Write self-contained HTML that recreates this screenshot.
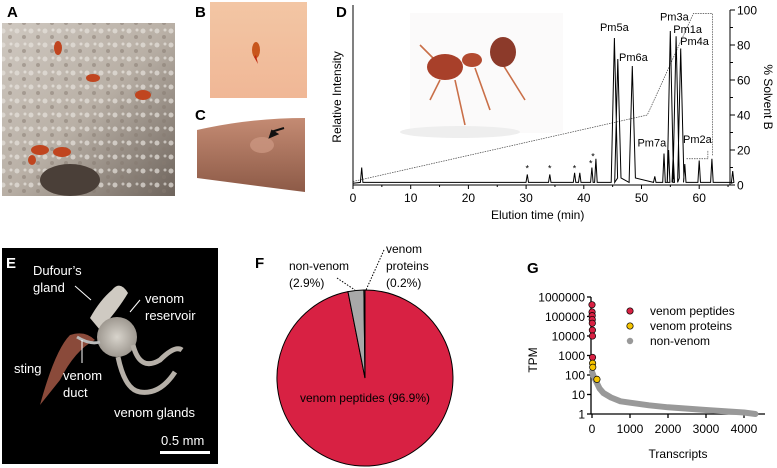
<!DOCTYPE html>
<html><head><meta charset="utf-8">
<style>
body{margin:0;background:#fff;}
svg{display:block;font-family:"Liberation Sans",Arial,sans-serif;}
</style></head>
<body>
<svg id="fig" width="777" height="468" viewBox="0 0 777 468">
<defs>
<linearGradient id="gA" x1="0" y1="0" x2="1" y2="1"><stop offset="0" stop-color="#cfc8c0"/><stop offset="0.5" stop-color="#b9b0a6"/><stop offset="1" stop-color="#6e645c"/></linearGradient>
<linearGradient id="gB" x1="0" y1="0" x2="0" y2="1"><stop offset="0" stop-color="#f3c6a4"/><stop offset="1" stop-color="#f0b796"/></linearGradient>
<linearGradient id="gC" x1="0" y1="0" x2="0" y2="1"><stop offset="0" stop-color="#c48b73"/><stop offset="1" stop-color="#8d5a47"/></linearGradient>
<radialGradient id="gRes"><stop offset="0" stop-color="#d8d4cc"/><stop offset="1" stop-color="#9e9890"/></radialGradient>
<pattern id="grit" width="14" height="14" patternUnits="userSpaceOnUse"><circle cx="3" cy="3" r="2.5" fill="#e6e1dc" opacity="0.7"/><circle cx="10" cy="9" r="2" fill="#857a70" opacity="0.5"/><circle cx="11" cy="2" r="1.5" fill="#f2eeea" opacity="0.6"/></pattern>
</defs>
<!-- Panel A -->
<text x="7" y="17" font-size="15" font-weight="bold">A</text>
<g>
<rect x="2" y="23" width="173" height="173" fill="url(#gA)"/>
<rect x="2" y="23" width="173" height="173" fill="url(#grit)"/>
<ellipse cx="70" cy="180" rx="30" ry="16" fill="#4a3f38"/>
<g fill="#c0451f"><ellipse cx="58" cy="48" rx="4" ry="7"/><ellipse cx="93" cy="78" rx="7" ry="4"/><ellipse cx="143" cy="95" rx="8" ry="5"/><ellipse cx="40" cy="150" rx="9" ry="5"/><ellipse cx="62" cy="152" rx="9" ry="5"/><ellipse cx="32" cy="160" rx="4" ry="5"/></g>
</g>
<!-- Panel B -->
<text x="195" y="17" font-size="15" font-weight="bold">B</text>
<g>
<rect x="210" y="2" width="97" height="96" fill="url(#gB)"/>
<ellipse cx="256" cy="50" rx="4" ry="8" fill="#c8561c"/>
<path d="M256 55 L258 64 L254 57Z" fill="#c02a10"/>
</g>
<!-- Panel C -->
<text x="195" y="120" font-size="15" font-weight="bold">C</text>
<g>
<path d="M197 130 Q250 118 305 118 L305 192 Q250 185 197 178Z" fill="url(#gC)"/>
<ellipse cx="262" cy="145" rx="12" ry="8" fill="#cf9a84" opacity="0.7"/>
<path d="M271 132 L284 128 M270 137 L272 131 L277 134Z" stroke="#111" stroke-width="2" fill="#111"/>
</g>
<!-- Panel D -->
<text x="336" y="17" font-size="15" font-weight="bold">D</text>
<g id="chartD"></g>
<!-- Panel E -->
<g>
<rect x="2" y="248" width="216" height="216" fill="#000"/>
<text x="6" y="268" font-size="15" font-weight="bold" fill="#fff">E</text>
<path d="M40 405 Q55 350 70 335 Q85 330 95 340 Q75 350 60 380Z" fill="#8a4a3a"/>
<path d="M90 318 Q100 300 112 290 Q120 280 128 293 Q118 310 100 330Z" fill="#cfcac2"/>
<circle cx="117" cy="337" r="20" fill="url(#gRes)"/>
<path d="M133 345 Q140 372 160 360 Q175 345 182 350 M118 357 Q125 390 140 392 Q160 395 175 372" stroke="#b6b0a8" stroke-width="5" fill="none"/>
<path d="M77 337 Q90 345 100 342" stroke="#bbb" stroke-width="3" fill="none"/>
<g fill="#fff" font-size="13">
<text x="33" y="275">Dufour’s</text><text x="33" y="292">gland</text>
<text x="145" y="303">venom</text><text x="145" y="320">reservoir</text>
<text x="14" y="373">sting</text>
<text x="63" y="380">venom</text><text x="63" y="397">duct</text>
<text x="114" y="417">venom glands</text>
<text x="161" y="445">0.5 mm</text>
</g>
<g stroke="#fff" stroke-width="1"><line x1="75" y1="286" x2="91" y2="300"/><line x1="140" y1="300" x2="130" y2="312"/><line x1="82" y1="340" x2="82" y2="363"/></g>
<rect x="160" y="451" width="50" height="3" fill="#fff"/>
</g>
<!-- Panel F -->
<g id="chartF"></g>
<!-- Panel G -->
<text x="527" y="273" font-size="15" font-weight="bold">G</text>
<g id="chartG"></g>
</svg>
<script>
// ---- Panel D data ----
const peakTimes = [1.5, 30.2, 34.1, 38.4, 39.3, 41.4, 42.1, 45.3, 45.9, 48.4, 52.3, 53.9, 54.7, 55.0, 55.5, 56.0, 56.8, 57.5, 60.0, 62.2, 65.8];
const peakHeights = [10, 6, 6, 7, 7, 10, 15, 84, 72, 68, 5, 18, 20, 88, 17, 85, 78, 12, 14, 15, 8];
const gradientTimes = [0, 51, 59, 62.3, 62.3];
const gradientValues = [2, 40, 98, 98, 17];
const dXTicks = [0, 10, 20, 30, 40, 50, 60];
const dYTicks = [0, 20, 40, 60, 80, 100];
const peakLabels = ["Pm5a", "Pm6a", "Pm7a", "Pm3a", "Pm1a", "Pm4a", "Pm2a"];
const peakLabelTimes = [42.8, 46.1, 49.3, 53.2, 55.5, 56.7, 57.2];
const peakLabelValues = [88, 71, 22, 94, 87, 80, 24];
const starTimes = [30.2, 34.1, 38.4, 41.2, 41.6];
const starValues = [10, 10, 10, 13, 17];

// ---- Panel F data ----
const pieLabels = ["venom peptides", "non-venom", "venom proteins"];
const pieValues = [96.9, 2.9, 0.2];

// ---- Panel G data ----
const gyTicks = [1, 10, 100, 1000, 10000, 100000, 1000000];
const gxTicks = [0, 1000, 2000, 3000, 4000];
const peptideRanks = [0, 2, 4, 6, 8, 10, 12, 14];
const peptideTPM = [400000, 170000, 110000, 70000, 45000, 20000, 10000, 800];
const proteinRanks = [16, 20, 130];
const proteinTPM = [400, 250, 60];
const nonVenomRanks = [0, 50, 100, 200, 300, 500, 750, 1000, 1500, 2000, 2500, 3000, 3500, 4000, 4300];
const nonVenomTPM = [150, 80, 50, 20, 12, 7, 4.5, 3.8, 2.8, 2.2, 1.9, 1.6, 1.4, 1.2, 1.0];

const NS = "http://www.w3.org/2000/svg";
function mk(parent, tag, attrs, text){
  const e = document.createElementNS(NS, tag);
  for (const k in attrs) e.setAttribute(k, attrs[k]);
  if (text !== undefined) e.textContent = text;
  parent.appendChild(e);
  return e;
}

// ===== Panel D =====
(function(){
  const g = document.getElementById("chartD");
  const x0 = 353, pxPerMin = 5.77, yb = 185, yt = 10;
  const xs = t => x0 + t * pxPerMin;
  const ys = v => yb - (v / 100) * (yb - yt);
  const ant = mk(g, "g", {});
  
  
  mk(ant, "rect", {x:410, y:13, width:153, height:120, fill:"#fbfafa"});
  mk(ant, "ellipse", {cx:460, cy:132, rx:60, ry:6, fill:"#eeeeee"});
  mk(ant, "path", {d:"M440 80 L430 100 M455 80 L465 125 M475 68 L490 110 M500 60 L525 100 M435 60 L420 45", stroke:"#c96f48", "stroke-width":1.6, fill:"none"});
  mk(ant, "ellipse", {cx:445, cy:67, rx:18, ry:13, fill:"#a8402a"});
  mk(ant, "ellipse", {cx:472, cy:60, rx:10, ry:7, fill:"#b24a30"});
  mk(ant, "ellipse", {cx:503, cy:52, rx:13, ry:15, fill:"#8c3a2a"});
  let gd = "";
  gradientTimes.forEach((t,i)=>{ gd += (i?"L":"M") + xs(t).toFixed(1) + " " + ys(gradientValues[i]).toFixed(1) + " "; });
  const gl = mk(g, "path", {d:gd, fill:"none", stroke:"#444", "stroke-width":0.7, "stroke-dasharray":"1.5 1"});
  
  
  mk(g, "path", {d:`M${xs(57.8)} ${ys(15)} L${xs(61.5)} ${ys(15)} L${xs(61.5)} ${ys(20)}`, fill:"none", stroke:"#444", "stroke-width":0.7, "stroke-dasharray":"1.5 1"});
  let d = `M${xs(0)} ${ys(1)}`;
  const order = peakTimes.map((t,i)=>i).sort((a,b)=>peakTimes[a]-peakTimes[b]);
  order.forEach(i=>{
    const t = peakTimes[i], h = peakHeights[i], w = h > 40 ? 0.55 : 0.22;
    d += ` L${xs(t-w).toFixed(1)} ${ys(1.5).toFixed(1)} L${xs(t).toFixed(1)} ${ys(h).toFixed(1)} L${xs(t+w).toFixed(1)} ${ys(h>40?4:1.5).toFixed(1)}`;
  });
  d += ` L${xs(65.5)} ${ys(1)}`;
  const tr = mk(g, "path", {d:d, fill:"none", stroke:"#000", "stroke-width":1});
  
  
  mk(g, "line", {x1:x0, y1:yt-5, x2:x0, y2:yb, stroke:"#000"});
  mk(g, "line", {x1:x0, y1:yb, x2:730, y2:yb, stroke:"#000"});
  mk(g, "line", {x1:730, y1:yt, x2:730, y2:yb, stroke:"#000"});
  dXTicks.forEach(t=>{
    mk(g, "line", {x1:xs(t), y1:yb, x2:xs(t), y2:yb+4, stroke:"#000"});
    mk(g, "line", {x1:xs(t+5), y1:yb, x2:xs(t+5), y2:yb+2, stroke:"#000"});
    const tx = mk(g, "text", {x:xs(t), y:yb+17, "font-size":12, "text-anchor":"middle"}, String(t));
    
    
  });
  dYTicks.forEach(v=>{
    mk(g, "line", {x1:730, y1:ys(v), x2:735, y2:ys(v), stroke:"#000"});
    if (v<100) mk(g, "line", {x1:730, y1:ys(v+10), x2:733, y2:ys(v+10), stroke:"#000"});
    const tx = mk(g, "text", {x:737, y:ys(v)+4.5, "font-size":12}, String(v));
    
    
  });
  const xt = mk(g, "text", {x:xs(32), y:219, "font-size":12, "text-anchor":"middle"}, "Elution time (min)");
  
  
  const yl = mk(g, "text", {x:0, y:0, "font-size":12, "text-anchor":"middle", transform:"translate(341,97) rotate(-90)"}, "Relative Intensity");
  
  
  const yr = mk(g, "text", {x:0, y:0, "font-size":12, "text-anchor":"middle", transform:"translate(764,97) rotate(90)"}, "% Solvent B");
  
  
  peakLabels.forEach((l,i)=>{
    const tx = mk(g, "text", {x:xs(peakLabelTimes[i]), y:ys(peakLabelValues[i]), "font-size":11}, l);
    
    
  });
  starTimes.forEach((t,i)=>{
    const tx = mk(g, "text", {x:xs(t), y:ys(starValues[i])+4, "font-size":9, "text-anchor":"middle"}, "*");
    
    
  });
})();

// ===== Panel F =====
(function(){
  const g = document.getElementById("chartF");
  const cx = 365, cy = 378, r = 88;
  const colors = ["#d82143", "#a8a8a8", "#a8a8a8"];
  const total = pieValues.reduce((a,b)=>a+b,0);
  let ang = 0;
  pieValues.forEach((v,i)=>{
    const a0 = ang, a1 = ang + v/total*2*Math.PI; ang = a1;
    const p = (a)=>[cx + r*Math.sin(a), cy - r*Math.cos(a)];
    const [x0,y0] = p(a0), [x1,y1] = p(a1);
    const large = (a1-a0) > Math.PI ? 1 : 0;
    const s = mk(g, "path", {d:`M${cx} ${cy} L${x0.toFixed(2)} ${y0.toFixed(2)} A${r} ${r} 0 ${large} 1 ${x1.toFixed(2)} ${y1.toFixed(2)} Z`, fill:colors[i], stroke:"#000", "stroke-width":1});
    
    
  });
  mk(g, "text", {x:255, y:268, "font-size":15, "font-weight":"bold"}, "F");
  mk(g, "line", {x1:337, y1:278, x2:355, y2:290, stroke:"#000", "stroke-dasharray":"1.5 1.5"});
  mk(g, "line", {x1:384, y1:250, x2:366, y2:290, stroke:"#000", "stroke-dasharray":"1.5 1.5"});
  const t1 = mk(g, "text", {x:289, y:270, "font-size":12}, "non-venom");
  
  
  mk(g, "text", {x:289, y:287, "font-size":12}, `(${pieValues[1]}%)`);
  const t2 = mk(g, "text", {x:386, y:253, "font-size":12}, "venom");
  
  
  mk(g, "text", {x:386, y:270, "font-size":12}, "proteins");
  mk(g, "text", {x:386, y:287, "font-size":12}, `(${pieValues[2]}%)`);
  const t3 = mk(g, "text", {x:365, y:402, "font-size":12, "text-anchor":"middle"}, `venom peptides (${pieValues[0]}%)`);
  
  
})();

// ===== Panel G =====
(function(){
  const g = document.getElementById("chartG");
  const xa = 592, yb = 414, pxDec = 19.5, pxPerK = 38;
  const xs = v => xa + v/1000*pxPerK;
  const ys = v => yb - Math.log10(v)*pxDec;
  mk(g, "line", {x1:xa-1, y1:ys(1000000), x2:xa-1, y2:yb, stroke:"#000", "stroke-width":1.3});
  mk(g, "line", {x1:xa-1, y1:yb, x2:765, y2:yb, stroke:"#000", "stroke-width":1.3});
  gyTicks.forEach(v=>{
    mk(g, "line", {x1:xa-5, y1:ys(v), x2:xa-1, y2:ys(v), stroke:"#000", "stroke-width":1.3});
    const t = mk(g, "text", {x:xa-7, y:ys(v)+4.5, "font-size":12, "text-anchor":"end"}, String(v));
    
    
  });
  gxTicks.forEach(v=>{
    mk(g, "line", {x1:xs(v), y1:yb, x2:xs(v), y2:yb+4, stroke:"#000", "stroke-width":1.3});
    const t = mk(g, "text", {x:xs(v), y:yb+19, "font-size":12, "text-anchor":"middle"}, String(v));
    
    
  });
  let d = "";
  nonVenomRanks.forEach((r,i)=>{ d += (i?"L":"M") + xs(r).toFixed(1) + " " + ys(nonVenomTPM[i]).toFixed(1) + " "; });
  const nl = mk(g, "path", {d:d, fill:"none", stroke:"#999", "stroke-width":6, "stroke-linecap":"round", "stroke-linejoin":"round"});
  
  
  peptideRanks.forEach((r,i)=>{
    const c = mk(g, "circle", {cx:xs(r), cy:ys(peptideTPM[i]), r:3.2, fill:"#d82143", stroke:"#000", "stroke-width":0.7});
    
    
  });
  proteinRanks.forEach((r,i)=>{
    const c = mk(g, "circle", {cx:xs(r), cy:ys(proteinTPM[i]), r:3.2, fill:"#f5c400", stroke:"#000", "stroke-width":0.7});
    
    
  });
  const leg = [["venom peptides","#d82143",true],["venom proteins","#f5c400",true],["non-venom","#999",false]];
  leg.forEach((l,i)=>{
    const c = mk(g, "circle", {cx:630, cy:311+i*15, r:3.2, fill:l[1], stroke:l[2]?"#000":"none", "stroke-width":0.7});
    
    
    const t = mk(g, "text", {x:650, y:315+i*15, "font-size":12}, l[0]);
    
    
  });
  const xt = mk(g, "text", {x:678, y:458, "font-size":12, "text-anchor":"middle"}, "Transcripts");
  
  
  const yt = mk(g, "text", {x:0, y:0, "font-size":12, "text-anchor":"middle", transform:"translate(537,360) rotate(-90)"}, "TPM");
  
  
})();
</script>
</body></html>
